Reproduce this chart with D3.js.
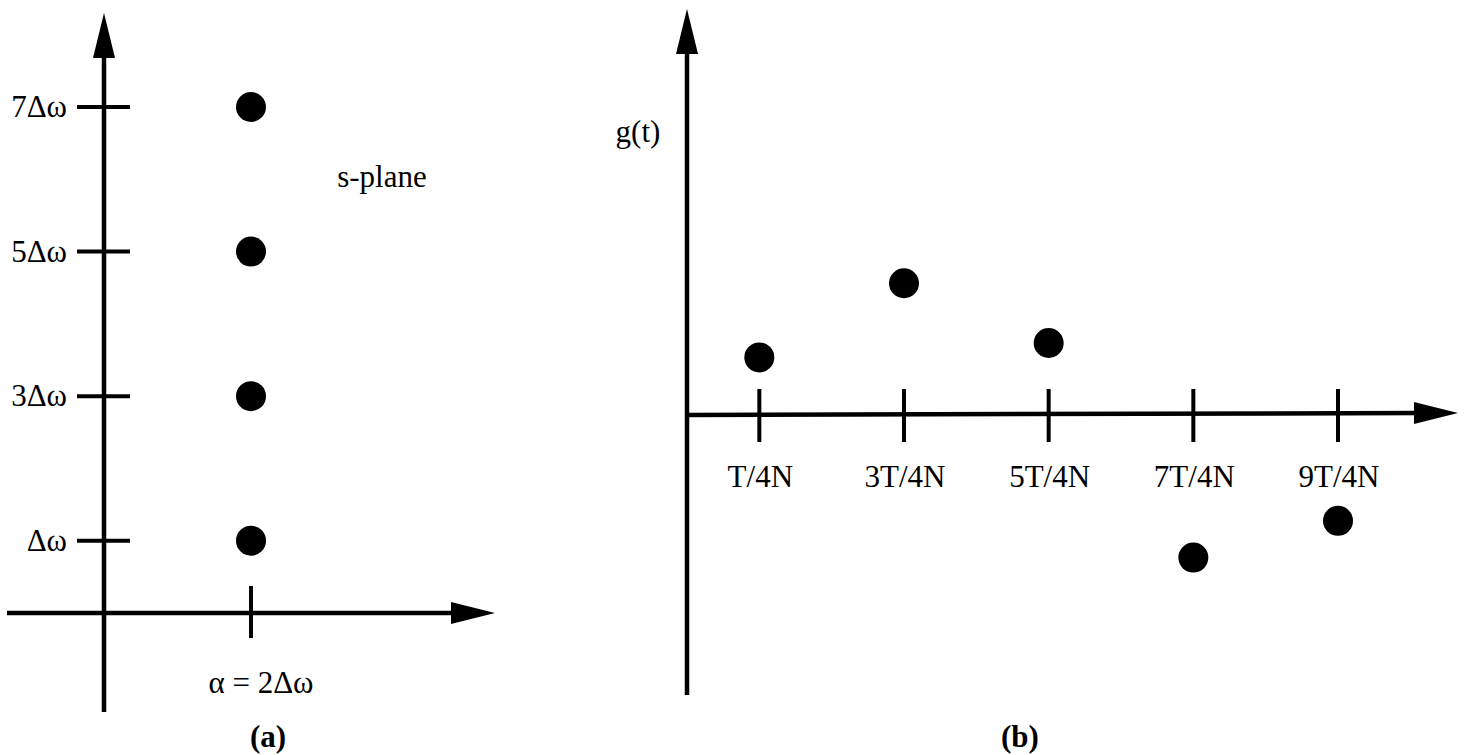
<!DOCTYPE html>
<html>
<head>
<meta charset="utf-8">
<script src="https://cdn.jsdelivr.net/npm/d3@7"></script>
<style>
  body { margin: 0; background: #fff; }
  text { font-family: "Liberation Serif", "DejaVu Serif", serif; fill: #000; }
</style>
</head>
<body>
<svg id="chart" width="1465" height="755"></svg>
<script>
// panel (a): s-plane poles at alpha = 2dw, omega = 1,3,5,7 dw
const poleAlpha = [2, 2, 2, 2];
const poleOmega = [1, 3, 5, 7];
const omegaTicks = [1, 3, 5, 7];
const omegaLabels = ["\u0394\u03c9", "3\u0394\u03c9", "5\u0394\u03c9", "7\u0394\u03c9"];
const alphaTicks = [2];
const alphaLabels = ["\u03b1 = 2\u0394\u03c9"];

// panel (b): samples of g(t) at t = (2k+1)T/4N
const sampleT = [1, 3, 5, 7, 9];
const sampleG = [0.8, 1.83, 1.0, -1.98, -1.47];
const tLabels = ["T/4N", "3T/4N", "5T/4N", "7T/4N", "9T/4N"];

const svg = d3.select("#chart");
const AXW = 4.5, TICKW = 4, R = 15, FS = 31;

function arrow(g, x, y, dir) {
  // dir: "up" or "right", (x,y) is the tip
  const p = dir === "up"
    ? [[x, y], [x - 11, y + 45], [x + 11, y + 45]]
    : [[x, y], [x - 44, y - 11], [x - 44, y + 11]];
  g.append("path").attr("d", d3.line()(p) + "Z").attr("fill", "#000");
}

// ---------- panel (a) ----------
const xa = d3.scaleLinear().domain([0, 2]).range([104, 251]);
const ya = d3.scaleLinear().domain([0, 7]).range([613, 107]);
const ga = svg.append("g");

ga.append("line").attr("x1", xa(0)).attr("x2", xa(0))
  .attr("y1", ya(-1.37)).attr("y2", 50)
  .attr("stroke", "#000").attr("stroke-width", AXW);
arrow(ga, xa(0), 13, "up");

ga.append("line").attr("x1", 7).attr("x2", 460)
  .attr("y1", ya(0)).attr("y2", ya(0))
  .attr("stroke", "#000").attr("stroke-width", AXW);
arrow(ga, 495, ya(0), "right");

ga.selectAll(".ytick").data(omegaTicks).enter().append("line")
  .attr("x1", xa(0) - 27).attr("x2", xa(0) + 26)
  .attr("y1", d => ya(d)).attr("y2", d => ya(d))
  .attr("stroke", "#000").attr("stroke-width", TICKW);
ga.selectAll(".ylab").data(omegaTicks).enter().append("text")
  .attr("x", 67).attr("y", d => ya(d) + 10)
  .attr("text-anchor", "end").attr("font-size", FS)
  .text((d, i) => omegaLabels[i]);

ga.selectAll(".xtick").data(alphaTicks).enter().append("line")
  .attr("x1", d => xa(d)).attr("x2", d => xa(d))
  .attr("y1", ya(0) - 27).attr("y2", ya(0) + 25)
  .attr("stroke", "#000").attr("stroke-width", TICKW);
ga.selectAll(".xlab").data(alphaTicks).enter().append("text")
  .attr("x", d => xa(d) + 10).attr("y", 693)
  .attr("text-anchor", "middle").attr("font-size", FS)
  .text((d, i) => alphaLabels[i]);

ga.selectAll(".pole").data(poleOmega).enter().append("circle")
  .attr("cx", (d, i) => xa(poleAlpha[i])).attr("cy", d => ya(d))
  .attr("r", R).attr("fill", "#000");

ga.append("text").attr("x", 382).attr("y", 187).attr("text-anchor", "middle")
  .attr("font-size", FS).text("s-plane");
ga.append("text").attr("x", 268).attr("y", 747).attr("text-anchor", "middle")
  .attr("font-size", FS).attr("font-weight", "bold").text("(a)");

// ---------- panel (b) ----------
const xb = d3.scaleLinear().domain([0, 9]).range([687, 1338]);
const yb = d3.scaleLinear().domain([0, 1]).range([415, 343]);
const gb = svg.append("g");

gb.append("line").attr("x1", xb(0)).attr("x2", xb(0))
  .attr("y1", 695).attr("y2", 45)
  .attr("stroke", "#000").attr("stroke-width", AXW);
arrow(gb, xb(0), 9, "up");

gb.append("line").attr("x1", xb(0)).attr("x2", 1420)
  .attr("y1", yb(0)).attr("y2", yb(0) - 2)
  .attr("stroke", "#000").attr("stroke-width", AXW);
arrow(gb, 1458, yb(0) - 2, "right");

gb.selectAll(".ttick").data(sampleT).enter().append("line")
  .attr("x1", d => xb(d)).attr("x2", d => xb(d))
  .attr("y1", yb(0) - 26).attr("y2", yb(0) + 27)
  .attr("stroke", "#000").attr("stroke-width", TICKW);
gb.selectAll(".tlab").data(sampleT).enter().append("text")
  .attr("x", d => xb(d) + 1).attr("y", 487)
  .attr("text-anchor", "middle").attr("font-size", FS)
  .text((d, i) => tLabels[i]);

gb.selectAll(".sample").data(sampleT).enter().append("circle")
  .attr("cx", d => xb(d)).attr("cy", (d, i) => yb(sampleG[i]))
  .attr("r", R).attr("fill", "#000");

gb.append("text").attr("x", 638).attr("y", 142).attr("text-anchor", "middle")
  .attr("font-size", FS).text("g(t)");
gb.append("text").attr("x", 1020).attr("y", 747).attr("text-anchor", "middle")
  .attr("font-size", FS).attr("font-weight", "bold").text("(b)");
</script>
</body>
</html>
